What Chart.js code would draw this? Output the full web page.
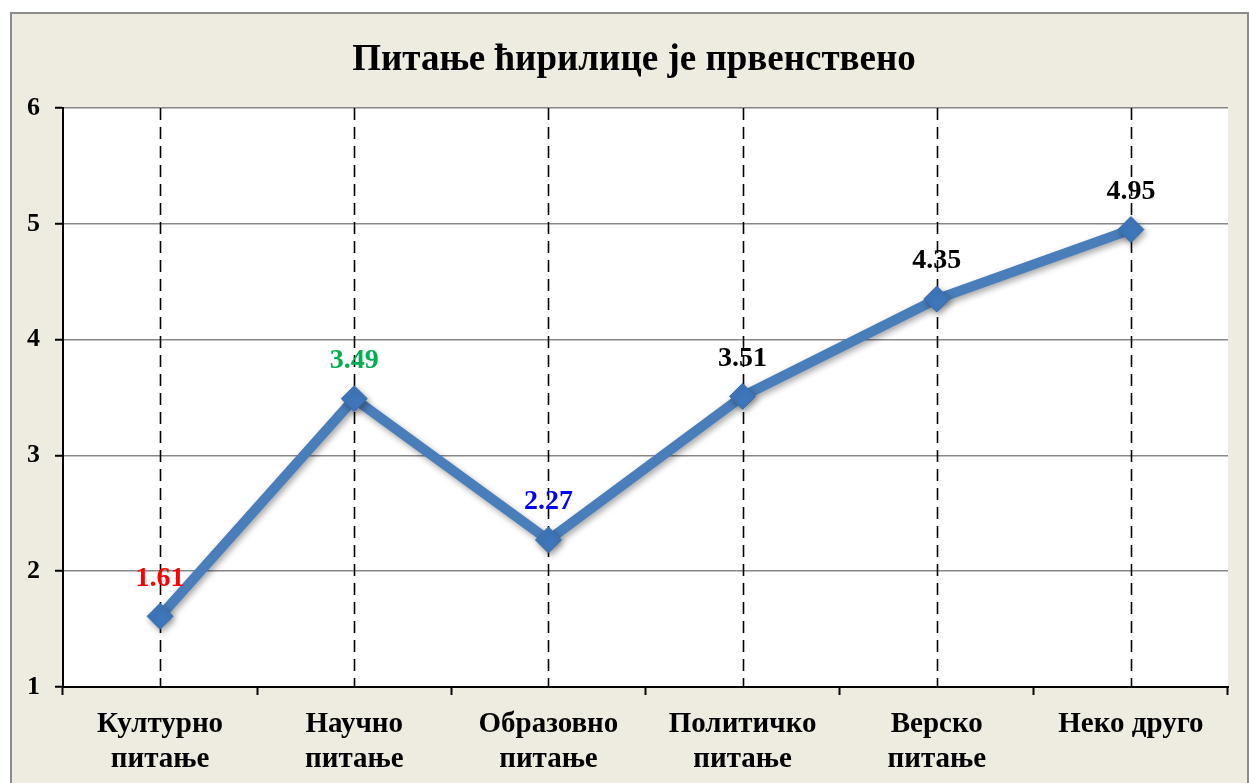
<!DOCTYPE html>
<html>
<head>
<meta charset="utf-8">
<script src="https://cdn.jsdelivr.net/npm/chart.js@4"></script>
<style>
  html, body { margin: 0; padding: 0; background: #fff; overflow: hidden; }
  #box {
    position: absolute; left: 10px; top: 12px;
    width: 1235px; height: 775px;
    border: 2px solid #8c8c8c;
    background: #eeece1;
  }
  canvas { display: block; }
</style>
</head>
<body>
<div id="box"><canvas id="Chart" width="1235" height="769"></canvas></div>
<script>
var title = 'Питање ћирилице је првенствено';
var categories = [
  ['Културно', 'питање'],
  ['Научно', 'питање'],
  ['Образовно', 'питање'],
  ['Политичко', 'питање'],
  ['Верско', 'питање'],
  'Неко друго'
];
var values = [1.61, 3.49, 2.27, 3.51, 4.35, 4.95];
var labelColors = ['#ff0000', '#00b050', '#0000ff', '#000000', '#000000', '#000000'];
var yTicks = [1, 2, 3, 4, 5, 6];

var serif = '"Liberation Serif", "Times New Roman", serif';

// white plot area
var plotBg = {
  id: 'plotBg',
  beforeDraw: function(chart) {
    var a = chart.chartArea, ctx = chart.ctx;
    ctx.save();
    ctx.fillStyle = '#ffffff';
    ctx.fillRect(a.left, a.top, a.right - a.left, a.bottom - a.top);
    ctx.restore();
  }
};

// dashed lines at each category
var dashLines = {
  id: 'dashLines',
  beforeDatasetsDraw: function(chart) {
    var a = chart.chartArea, ctx = chart.ctx, x = chart.scales.x;
    ctx.save();
    ctx.strokeStyle = '#000';
    ctx.lineWidth = 1.6;
    ctx.setLineDash([12, 7]);
    categories.forEach(function(c, i) {
      var px = Math.round(x.getPixelForValue(i)) + 0.5;
      ctx.beginPath();
      ctx.moveTo(px, a.top);
      ctx.lineTo(px, a.bottom);
      ctx.stroke();
    });
    ctx.restore();
  }
};

var shadow = {
  id: 'shadow',
  beforeDatasetDraw: function(chart) {
    var ctx = chart.ctx;
    ctx.save();
    ctx.shadowColor = 'rgba(0,0,0,0.35)';
    ctx.shadowBlur = 6;
    ctx.shadowOffsetX = 2;
    ctx.shadowOffsetY = 3;
  },
  afterDatasetDraw: function(chart) {
    chart.ctx.restore();
  }
};

var valueLabels = {
  id: 'valueLabels',
  afterDatasetsDraw: function(chart) {
    var ctx = chart.ctx;
    var meta = chart.getDatasetMeta(0);
    ctx.save();
    ctx.font = 'bold 28px ' + serif;
    ctx.textAlign = 'center';
    ctx.textBaseline = 'middle';
    meta.data.forEach(function(pt, i) {
      ctx.fillStyle = labelColors[i];
      ctx.fillText(values[i].toFixed(2), pt.x, pt.y - 38);
    });
    ctx.restore();
  }
};

const ctx = document.getElementById('Chart').getContext('2d');
const chart = new Chart(ctx, {
  type: 'line',
  data: {
    labels: categories,
    datasets: [{
      data: values,
      borderColor: '#4a7ebb',
      borderWidth: 10,
      backgroundColor: '#3f77bb',
      pointStyle: 'rectRot',
      pointRadius: 13,
      pointBorderWidth: 1,
      pointBorderColor: '#3a6eac',
      pointBackgroundColor: '#3f77bb',
      tension: 0
    }]
  },
  plugins: [plotBg, dashLines, shadow, valueLabels],
  options: {
    responsive: false,
    animation: false,
    layout: { padding: { left: 9, right: 0, top: 0, bottom: 0 } },
    plugins: {
      legend: { display: false },
      tooltip: { enabled: false },
      title: {
        display: true,
        text: title,
        color: '#000',
        font: { family: serif, size: 37, weight: 'bold', lineHeight: 1.2 },
        padding: { top: 24, bottom: 25.6 }
      }
    },
    scales: {
      x: {
        offset: true,
        grid: {
          offset: true,
          drawOnChartArea: false,
          drawTicks: true,
          tickLength: 8,
          tickColor: '#000',
          tickWidth: 2
        },
        border: { color: '#000', width: 2 },
        ticks: {
          color: '#000',
          padding: 12,
          maxRotation: 0,
          autoSkip: false,
          font: { family: serif, size: 29, weight: 'bold', lineHeight: 1.2 }
        },
        afterFit: function(s) { s.height = 96; }
      },
      y: {
        min: 1,
        max: 6,
        afterBuildTicks: function(s) { s.ticks = yTicks.map(function(v) { return { value: v }; }); },
        grid: {
          color: '#878787',
          lineWidth: 1.5,
          tickLength: 8,
          tickColor: '#000',
          tickWidth: 2
        },
        border: { color: '#000', width: 2 },
        ticks: {
          color: '#000',
          padding: 15,
          font: { family: serif, size: 26, weight: 'bold' }
        },
        afterFit: function(s) { s.width = 42; }
      },
      // empty right-hand strip, keeps the plot off the right edge
      y2: {
        position: 'right',
        min: 1,
        max: 6,
        grid: { drawOnChartArea: false, drawTicks: false },
        border: { display: false },
        ticks: { display: false },
        afterFit: function(s) { s.width = 19; }
      }
    }
  }
});
</script>
</body>
</html>
